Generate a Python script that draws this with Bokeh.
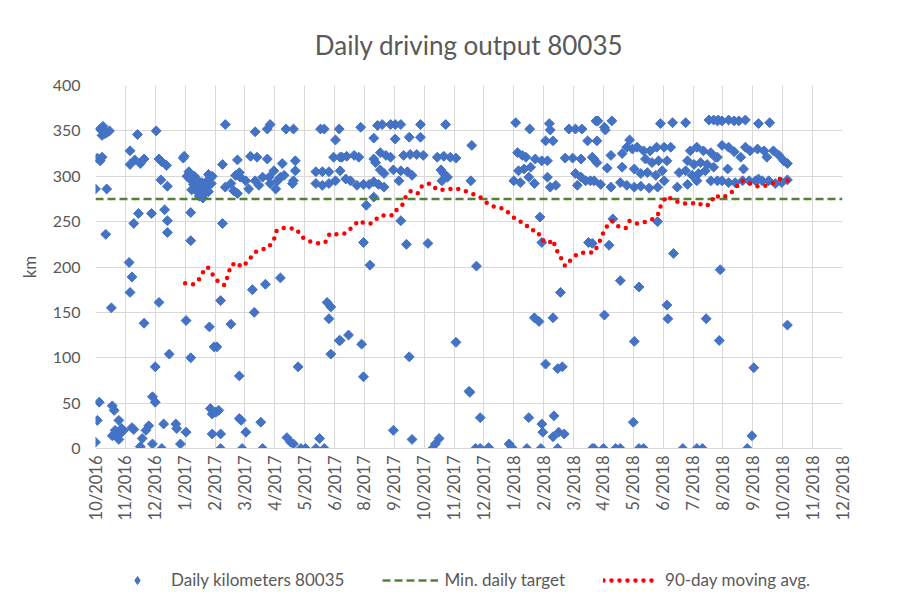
import math
from bokeh.plotting import figure
from bokeh.layouts import column
from bokeh.models import Range1d, FixedTicker, Legend, LegendItem
from bokeh.embed import file_html
from bokeh.resources import INLINE

# x values are days counted from the first axis tick (17 Oct 2016)
AXIS_START = "2016-10-17"
TICK_STEP_DAYS = 32
tick_labels = ["10/2016", "11/2016", "12/2016", "1/2017", "2/2017", "3/2017", "4/2017",
               "5/2017", "6/2017", "8/2017", "9/2017", "10/2017", "11/2017", "12/2017",
               "1/2018", "2/2018", "3/2018", "4/2018", "5/2018", "6/2018", "7/2018",
               "8/2018", "9/2018", "10/2018", "11/2018", "12/2018"]

daily_day = [
    5, 8, 12, 15, 7, 10, 45, 65, 37, 2, 7, 5, 37, 42, 48, 52, 68, 71, 76, 94, 95, 70, 77, 0, 12,
    98, 100, 102, 106, 110, 112, 115, 117, 119, 121, 123, 125, 124, 109, 111, 115, 113, 107,
    100, 105, 111, 114, 116, 120, 121, 113, 118, 108, 103,
    46, 60, 74, 77, 77, 102, 102, 41, 11, 36, 39, 37, 68, 17, 52, 97, 122, 127, 79, 102, 64,
    61, 64, 4, 18, 20, 2, 25, 21, 26, 30, 23, 18, 25, 28, 41, 39, 57, 54, 50, 48, 61, 71, 73,
    86, 87, 91, 97, 123, 125, 125, 0,
    139, 171, 184, 187, 204, 212, 241, 245, 261, 257, 136, 152, 166, 173, 184, 200, 214, 214,
    139, 145, 150, 155, 161, 148, 152, 164, 175, 186, 191, 195, 198, 202, 193, 187, 212, 211,
    154, 171, 179, 236, 243, 250, 236, 243, 250, 257, 255, 264, 136,
    134, 145, 130, 168, 170, 182, 198, 154, 217, 248, 252, 250, 252, 261,
    132, 129, 134, 154, 156, 161, 177, 134, 157, 179, 205, 209, 212, 220, 225, 236, 245, 240,
    284, 302, 307, 316, 321, 327, 348, 375, 298, 321, 336, 348,
    262, 269, 277, 282, 298, 300, 305, 311, 316, 330, 337, 344, 351, 366, 373, 380, 386,
    262, 268, 273, 280, 287, 293, 298, 303, 309, 305, 309, 319, 327, 334, 339, 325, 370, 373,
    371, 377, 298, 290, 287, 294, 327, 333, 356, 262, 271, 285, 287, 336, 386, 400,
    319, 339, 361, 364, 368,
    403, 402, 408, 401, 412, 407, 412, 421,
    450, 465, 486, 487, 482, 490, 507, 514, 521, 527, 536,
    452, 457, 461, 471, 478, 484, 503, 511, 520, 532,
    453, 459, 466, 448, 455, 464, 470, 484, 487, 493, 514, 520, 525, 516, 534,
    476, 478, 528, 498, 470, 475, 490, 482, 495, 500,
    464, 478, 479, 491, 490, 496, 502, 443, 446, 462, 477, 495, 532,
    538, 545, 553, 605, 618, 632, 657, 662, 667, 537, 546, 572,
    534, 537, 548, 552, 564, 569, 575, 580, 587, 594, 601, 609, 616, 589, 596, 603, 612,
    637, 644, 651, 659, 666, 634, 641, 648, 655, 662,
    564, 577, 584, 591, 600, 607, 625, 632, 639, 646, 653, 659,
    530, 541, 552, 562, 569, 577, 584, 593, 602, 609, 623, 634, 644, 666,
    532, 550, 554, 602, 619, 562, 582, 545, 612, 613, 654, 577, 668, 669, 576,
    534, 544, 557, 562, 582, 587, 629, 644, 650,
    666, 671, 678, 684, 689, 696, 710, 722,
    671, 678, 684, 691, 696, 701, 709, 716, 719, 726, 732, 737, 741,
    664, 677, 694, 710,
    671, 678, 685, 693, 700, 707, 714, 721, 728, 735, 741,
    741, 705, 703, 698,
]
daily_km = [
    352, 355, 348, 350, 345, 347, 346, 350, 328, 320, 321, 317, 313, 318, 314, 319, 319, 316, 312, 320, 322, 296, 289, 286, 286,
    300, 305, 297, 300, 295, 290, 286, 291, 288, 283, 298, 300, 292, 283, 278, 276, 285, 290,
    298, 291, 288, 293, 284, 295, 302, 280, 282, 296, 285,
    259, 259, 263, 251, 238, 260, 229, 248, 236, 205, 189, 172, 161, 155, 138, 141, 134, 112, 104, 100, 90,
    57, 51, 51, 47, 42, 31, 31, 20, 16, 20, 13, 14, 10, 22, 21, 23, 25, 20, 11, 2, 5, 0, 27,
    27, 22, 5, 18, 44, 38, 16, 7,
    357, 349, 352, 357, 352, 352, 352, 352, 352, 340, 313, 318, 322, 321, 319, 314, 317, 306,
    288, 292, 301, 299, 295, 284, 281, 286, 290, 299, 306, 295, 299, 301, 286, 292, 295, 292,
    304, 295, 299, 305, 305, 305, 292, 290, 292, 295, 321, 321, 248,
    163, 137, 112, 175, 150, 181, 188, 80, 90, 161, 156, 143, 104, 119,
    42, 40, 16, 33, 31, 18, 29, 0, 0, 0, 12, 7, 5, 0, 0, 0, 0, 11,
    354, 356, 357, 357, 357, 357, 357, 357, 342, 341, 343, 343,
    321, 322, 323, 321, 319, 315, 326, 323, 321, 323, 324, 324, 323, 321, 322, 321, 320,
    306, 297, 295, 290, 291, 291, 294, 291, 288, 307, 303, 307, 306, 305, 301, 295, 307, 303,
    295, 299, 277, 268, 227, 202, 251, 225, 226, 119, 125, 115, 79, 101, 117, 63,
    20, 10, 0, 5, 11,
    334, 295, 201, 62, 34, 0, 0, 1,
    359, 352, 358, 351, 339, 339, 352, 352, 352, 339, 361,
    326, 323, 321, 319, 317, 317, 320, 320, 319, 321,
    306, 308, 310, 295, 293, 299, 292, 299, 288, 290, 303, 299, 295, 290, 295,
    255, 227, 227, 172, 144, 140, 144, 93, 88, 90,
    34, 27, 18, 36, 13, 18, 16, 5, 1, 0, 0, 0, 0,
    361, 354, 361, 358, 359, 359, 362, 362, 362, 339, 351, 340,
    319, 315, 309, 323, 325, 332, 330, 332, 328, 328, 332, 332, 332, 319, 315, 317, 317,
    328, 332, 328, 326, 321, 317, 313, 315, 313, 310,
    310, 308, 303, 304, 301, 306, 304, 306, 301, 303, 306, 295,
    295, 291, 288, 293, 290, 288, 289, 287, 288, 295, 288, 291, 295, 295,
    226, 224, 253, 250, 215, 185, 178, 147, 158, 143, 143, 118, 119, 197, 29,
    0, 0, 0, 0, 0, 0, 0, 0, 0,
    361, 361, 362, 361, 361, 362, 358, 359,
    334, 332, 327, 321, 332, 328, 330, 328, 321, 328, 323, 317, 314,
    321, 308, 308, 297,
    295, 293, 293, 295, 295, 295, 295, 295, 292, 293, 296,
    136, 89, 14, 0,
]

avg_day = [96, 100, 105, 110, 115, 120, 126, 132, 138, 142, 145, 152, 156, 160, 164, 170, 177,
           185, 191, 194, 199, 204, 215, 221, 230, 239, 246, 251, 260, 268, 275, 282, 288, 296,
           304, 311, 319, 323, 329, 333, 338, 345, 350, 358, 366, 376, 385, 395, 403, 412, 420,
           428, 438, 445, 452, 460, 465, 473, 478, 485, 490, 493, 498, 503, 510, 517, 525, 534,
           539, 543, 547, 553, 561, 568, 572, 580, 585, 591, 597, 603, 606, 612, 620, 629, 637,
           645, 651, 658, 663, 671, 680, 686, 692, 698, 706, 716, 725, 733, 742]
avg_km = [182, 181, 181, 185, 194, 200, 191, 183, 180, 191, 202, 205, 200, 203, 207, 216, 219,
          221, 230, 240, 243, 243, 242, 233, 228, 226, 227, 237, 236, 237, 244, 251, 248, 248,
          256, 257, 257, 264, 269, 279, 284, 281, 290, 292, 285, 285, 287, 284, 281, 277, 270,
          266, 264, 257, 251, 248, 241, 240, 230, 226, 230, 220, 211, 201, 209, 215, 216, 216,
          226, 236, 244, 251, 244, 243, 251, 248, 249, 250, 253, 259, 270, 278, 273, 270, 270,
          271, 267, 269, 279, 276, 281, 288, 295, 294, 289, 289, 292, 297, 295]

TARGET_KM = 275
Y_MIN, Y_MAX, Y_STEP = 0, 400, 50

FONT = "Lato"
GREY = "#595959"
BLUE = "#4472c4"
GREEN = "#548235"
RED = "#ff0000"

x_max = TICK_STEP_DAYS * (len(tick_labels) - 1)
tick_pos = [TICK_STEP_DAYS * i for i in range(len(tick_labels))]

p = figure(width=896, height=540, output_backend="svg", toolbar_location=None,
           x_range=Range1d(0, x_max), y_range=Range1d(Y_MIN, Y_MAX),
           min_border_left=95, min_border_right=54, min_border_top=85, min_border_bottom=92)

p.title.text = "Daily driving output 80035"
p.title.align = "center"
p.title.text_font = FONT
p.title.text_font_size = "26px"
p.title.text_font_style = "normal"
p.title.text_color = GREY
p.title.standoff = 50

p.outline_line_color = None
p.background_fill_color = "white"
p.border_fill_color = "white"

p.xaxis.ticker = FixedTicker(ticks=tick_pos)
p.xaxis.major_label_overrides = {pos: lab for pos, lab in zip(tick_pos, tick_labels)}
p.xaxis.major_label_orientation = math.pi / 2
p.yaxis.ticker = FixedTicker(ticks=list(range(Y_MIN, Y_MAX + 1, Y_STEP)))
p.yaxis.axis_label = "km"

for ax in (p.xaxis[0], p.yaxis[0]):
    ax.major_tick_in = 0
    ax.major_tick_out = 0
    ax.minor_tick_in = 0
    ax.minor_tick_out = 0
    ax.major_label_text_font = FONT
    ax.major_label_text_color = GREY
    ax.axis_label_text_font = FONT
    ax.axis_label_text_font_size = "17px"
    ax.axis_label_text_font_style = "normal"
    ax.axis_label_text_color = GREY

p.xaxis.major_label_text_font_size = "16.5px"
p.yaxis.major_label_text_font_size = "16px"
p.xaxis.axis_line_color = "#d9d9d9"
p.xaxis.major_label_standoff = 7
p.yaxis.axis_line_color = None
p.yaxis.major_label_standoff = 15
p.yaxis.axis_label_standoff = 10

p.xgrid.grid_line_color = "#d9d9d9"
p.ygrid.grid_line_color = "#d9d9d9"

marker_style = dict(marker="square", angle=math.pi / 4, size=7,
                    fill_color=BLUE, line_color=BLUE, line_width=1)
target_style = dict(line_color=GREEN, line_width=2.5, line_dash="8 4")
avg_style = dict(line_color=RED, line_width=4.5, line_dash="0 8", line_cap="round")

p.scatter(daily_day, daily_km, **marker_style)
p.line([0, x_max], [TARGET_KM, TARGET_KM], **target_style)
p.line(avg_day, avg_km, **avg_style)

# legend strip below the chart (its renderers hold no visible data)
NAN = float("nan")
lg = figure(width=896, height=52, output_backend="svg", toolbar_location=None,
            x_range=Range1d(0, 1), y_range=Range1d(0, 1), min_border=0)
lg.axis.visible = False
lg.grid.visible = False
lg.outline_line_color = None
lg.border_fill_color = "white"
lg_daily = lg.scatter([NAN], [NAN], marker="diamond", size=11,
                      fill_color=BLUE, line_color=BLUE, line_width=1)
lg_target = lg.line([NAN, NAN], [NAN, NAN], **target_style)
lg_avg = lg.line([NAN, NAN], [NAN, NAN], **avg_style)

legend = Legend(items=[
    LegendItem(label="Daily kilometers 80035", renderers=[lg_daily]),
    LegendItem(label="Min. daily target", renderers=[lg_target]),
    LegendItem(label="90-day moving avg.", renderers=[lg_avg]),
], orientation="horizontal", location=(14, 2))
legend.label_text_font = FONT
legend.label_text_font_size = "17px"
legend.label_text_color = GREY
legend.glyph_width = 56
legend.label_standoff = 6
legend.spacing = 38
legend.padding = 0
legend.margin = 0
legend.border_line_color = None
legend.background_fill_alpha = 0
lg.add_layout(legend, "center")

open("out.html", "w").write(file_html(column(p, lg, spacing=0), INLINE))
